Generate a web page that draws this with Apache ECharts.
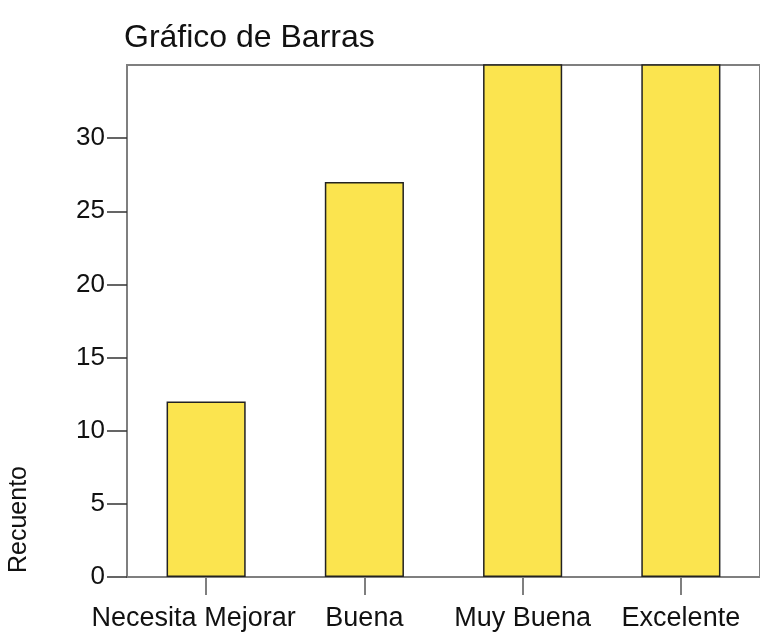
<!DOCTYPE html>
<html>
<head>
    <meta charset="UTF-8"/>
    <script type="text/javascript" src="https://cdn.jsdelivr.net/npm/echarts@6/dist/echarts.min.js"></script>
    <title>Gráfico de Barras</title>
    <style>
        html, body {margin: 0; padding: 0; background: #fff;}
        #main {width: 760px; height: 632px;}
    </style>
</head>
<body>
<div id="main"></div>
<script type="text/javascript">
    // datos
    var categorias = ['Necesita Mejorar', 'Buena', 'Muy Buena', 'Excelente']
    // las dos ultimas barras salen cortadas por arriba en la imagen
    var recuento = [12, 27, 40, 40]
    var marcasY = [0, 5, 10, 15, 20, 25, 30]

    var gris = '#7f7f7f'
    var fuente = 'Liberation Sans'

    var myChart = echarts.init(document.getElementById('main'))

    var option = {
        animation: false,
        textStyle: {fontFamily: fuente},
        title: {
            text: 'Gráfico de Barras',
            left: 119,
            top: 17,
            textStyle: {fontFamily: fuente, fontSize: 32, fontWeight: 'normal', color: '#111'}
        },
        grid: {
            left: 127,
            right: -4,
            top: 65,
            bottom: 53,
            show: true,
            borderColor: gris,
            borderWidth: 2,
            containLabel: false
        },
        xAxis: {
            type: 'category',
            data: categorias,
            axisLine: {lineStyle: {color: gris, width: 2}},
            axisTick: {show: true, alignWithLabel: true, length: 18, lineStyle: {color: gris, width: 2}},
            axisLabel: {
                margin: 28,
                fontSize: 27,
                color: '#111',
                interval: 0,
                // la primera etiqueta va algo desplazada a la izquierda
                formatter: function (v, i) {
                    return i === 0 ? '{izq|' + v + '}' : v
                },
                rich: {izq: {fontSize: 27, color: '#111', padding: [0, 25, 0, 0]}}
            }
        },
        yAxis: {
            type: 'value',
            min: 0,
            max: 35,
            interval: 5,
            splitLine: {show: false},
            axisLine: {show: true, lineStyle: {color: gris, width: 2}},
            axisTick: {show: true, length: 20, lineStyle: {color: '#333', width: 1.5}, customValues: marcasY},
            axisLabel: {margin: 22, fontSize: 26, color: '#111', customValues: marcasY}
        },
        graphic: [{
            type: 'text',
            x: 7,
            y: 573,
            rotation: Math.PI / 2,
            style: {text: 'Recuento', fontFamily: fuente, fontSize: 25, fill: '#111', textAlign: 'left', textVerticalAlign: 'top'}
        }],
        series: [{
            type: 'bar',
            data: recuento,
            barWidth: '50%',
            clip: true,
            itemStyle: {color: '#fbe44f', borderColor: '#222', borderWidth: 1.5}
        }]
    }

    myChart.setOption(option)
</script>
</body>
</html>
